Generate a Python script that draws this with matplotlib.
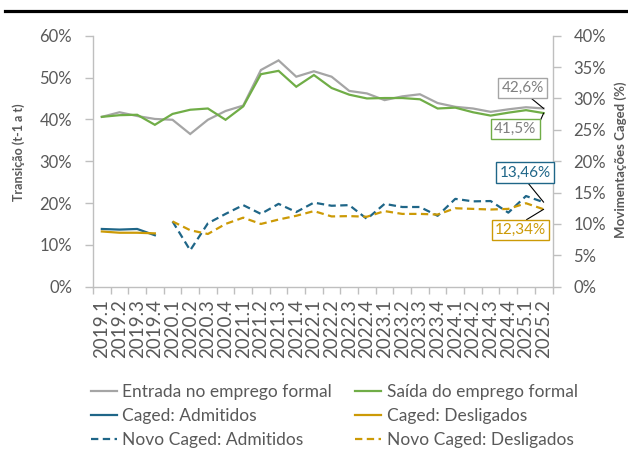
import numpy as np
import matplotlib
matplotlib.use('Agg')
import matplotlib.pyplot as plt
from matplotlib.lines import Line2D
from matplotlib.ticker import FuncFormatter, MultipleLocator, FixedLocator

plt.rcParams['font.family'] = ['Lato', 'DejaVu Sans']

cats = ['2019.1', '2019.2', '2019.3', '2019.4', '2020.1', '2020.2', '2020.3', '2020.4',
        '2021.1', '2021.2', '2021.3', '2021.4', '2022.1', '2022.2', '2022.3', '2022.4',
        '2023.1', '2023.2', '2023.3', '2023.4', '2024.1', '2024.2', '2024.3', '2024.4',
        '2025.1', '2025.2']

entrada = [40.6, 41.7, 40.8, 40.1, 39.9, 36.5, 39.9, 42.0, 43.3, 51.8, 54.1, 50.2, 51.5,
           50.2, 46.8, 46.2, 44.6, 45.5, 46.0, 43.9, 43.0, 42.6, 41.8, 42.4, 42.9, 42.6]
saida = [40.6, 41.0, 41.1, 38.7, 41.3, 42.3, 42.6, 39.9, 43.1, 50.8, 51.6, 47.8, 50.6,
         47.5, 45.9, 45.0, 45.1, 45.1, 44.8, 42.6, 42.8, 41.7, 40.9, 41.6, 42.2, 41.5]

caged_cats = cats[0:4]
caged_adm = [9.2, 9.1, 9.2, 8.2]
caged_desl = [8.8, 8.6, 8.6, 8.5]

novo_cats = cats[4:]
novo_adm = [10.4, 5.8, 10.1, 11.6, 13.0, 11.6, 13.2, 11.9, 13.4, 12.9, 13.0, 10.8, 13.2,
            12.7, 12.7, 11.3, 14.0, 13.6, 13.65, 11.8, 14.45, 13.46]
novo_desl = [10.4, 9.0, 8.4, 10.0, 11.0, 10.0, 10.7, 11.3, 12.05, 11.2, 11.25, 11.15, 12.05,
             11.6, 11.6, 11.5, 12.5, 12.4, 12.3, 12.4, 13.3, 12.34]

labels = ['Entrada no emprego formal', 'Saída do emprego formal',
          'Caged: Admitidos', 'Caged: Desligados',
          'Novo Caged: Admitidos', 'Novo Caged: Desligados']

C_GRAY = '#a5a5a5'
C_GREEN = '#70ad47'
C_BLUE = '#1f6688'
C_GOLD = '#cc9a06'
TXT = '#595959'
SPINE = '#bfbfbf'

W, H = 628, 451
fig = plt.figure(figsize=(W / 100, H / 100), dpi=100)
x0, x1, y0, y1 = 93, 552.5, 35.7, 286.7
ax = fig.add_axes([x0 / W, 1 - y1 / H, (x1 - x0) / W, (y1 - y0) / H])
ax2 = ax.twinx()

pos = {c: i for i, c in enumerate(cats)}
xa = np.array([pos[c] for c in cats])
xc = np.array([pos[c] for c in caged_cats])
xn = np.array([pos[c] for c in novo_cats])

lw = 1.6
dash = (0, (3.3, 2.0))
l1, = ax.plot(xa, entrada, color=C_GRAY, lw=lw, solid_joinstyle='miter')
l2, = ax.plot(xa, saida, color=C_GREEN, lw=lw, solid_joinstyle='miter')
l3, = ax2.plot(xc, caged_adm, color=C_BLUE, lw=lw)
l4, = ax2.plot(xc, caged_desl, color=C_GOLD, lw=lw)
l5, = ax2.plot(xn, novo_adm, color=C_BLUE, lw=lw, linestyle=dash)
l6, = ax2.plot(xn, novo_desl, color=C_GOLD, lw=lw, linestyle=dash)

ax.set_xlim(-0.5, len(cats) - 0.5)
ax.set_ylim(0, 60)
ax2.set_ylim(0, 40)

pct = FuncFormatter(lambda v, p: f'{v:.0f}%')
ax.yaxis.set_major_locator(MultipleLocator(10))
ax.yaxis.set_major_formatter(pct)
ax2.yaxis.set_major_locator(MultipleLocator(5))
ax2.yaxis.set_major_formatter(pct)

ax.set_xticks(xa)
ax.set_xticklabels(cats, rotation=90, fontsize=13.5, color=TXT)
ax.xaxis.set_minor_locator(FixedLocator(np.arange(-0.5, len(cats), 1.0)))
ax.tick_params(axis='x', which='major', length=0, pad=9)
ax.tick_params(axis='x', which='minor', length=5, width=1, color=SPINE, direction='out')
ax.tick_params(axis='y', which='major', length=6, width=1, color=SPINE, labelsize=12,
               labelcolor=TXT, pad=9)
ax2.tick_params(axis='y', which='major', length=6, width=1, color=SPINE, labelsize=12,
                labelcolor=TXT, pad=9)

for a in (ax, ax2):
    a.spines['top'].set_visible(False)
    for s in a.spines.values():
        s.set_color(SPINE)
        s.set_linewidth(1)
ax.spines['right'].set_visible(False)
ax2.spines['left'].set_visible(False)
ax2.spines['bottom'].set_visible(False)

# data labels
last = len(cats) - 1
def lab(axis, txt, yv, xt, yt, tcolor, ecolor, relpos):
    axis.annotate(txt, xy=(last, yv), xytext=(xt, yt), ha='center', va='center',
                  fontsize=11, color=tcolor,
                  bbox=dict(boxstyle='square,pad=0.2', fc='white', ec=ecolor, lw=1),
                  arrowprops=dict(arrowstyle='-', color='black', lw=0.8, relpos=relpos,
                                  shrinkA=0, shrinkB=0), zorder=5)

lab(ax, '42,6%', entrada[-1], 23.8, 47.6, '#7f7f7f', C_GRAY, (0.6, 0))
lab(ax, '41,5%', saida[-1], 23.4, 37.7, '#7f7f7f', C_GREEN, (1, 0.5))
lab(ax2, '13,46%', novo_adm[-1], 23.95, 18.2, C_BLUE, C_BLUE, (0.5, 0))
lab(ax2, '12,34%', novo_desl[-1], 23.7, 9.0, C_GOLD, C_GOLD, (0.5, 1))

# axis titles
fig.text(19 / W, 1 - 152 / H, 'Transição (t-1 a t)', rotation=90, ha='center', va='center',
         fontsize=9, fontweight='bold', color=TXT)
fig.text(621 / W, 1 - 160 / H, 'Movimentações Caged (%)', rotation=90, ha='center',
         va='center', fontsize=9.5, fontweight='bold', color=TXT)

# top rule
fig.add_artist(Line2D([5 / W, 1], [1 - 10.5 / H] * 2, color='black', lw=2.3,
                      transform=fig.transFigure))

# legend (column-major ordering)
handles = [l1, l3, l5, l2, l4, l6]
leg_labels = [labels[0], labels[2], labels[4], labels[1], labels[3], labels[5]]
fig.legend(handles, leg_labels, ncol=2, loc='upper left',
           bbox_to_anchor=(91 / W, 1 - 384 / H), frameon=False, fontsize=12.5,
           labelcolor=TXT, handlelength=1.5, handletextpad=0.3, columnspacing=1.35,
           labelspacing=0.45, borderaxespad=0, borderpad=0)

fig.savefig('out.png', dpi=100)
